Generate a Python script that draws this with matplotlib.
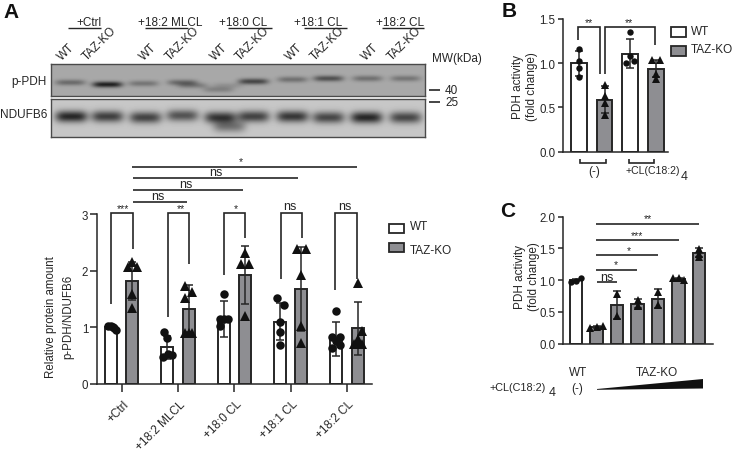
import numpy as np
import matplotlib
matplotlib.use("Agg")
import matplotlib.pyplot as plt
from matplotlib.patches import Rectangle, Polygon

plt.rcParams['font.family'] = ['Liberation Sans', 'DejaVu Sans']
plt.rcParams['mathtext.default'] = 'regular'

# ---------- data ----------
groups_a = ["+Ctrl", "+18:2 MLCL", "+18:0 CL", "+18:1 CL", "+18:2 CL"]
wt_mean = [1.0, 0.65, 1.15, 1.10, 0.80]
wt_err = [0.03, 0.20, 0.32, 0.33, 0.30]
ko_mean = [1.82, 1.33, 1.93, 1.68, 0.98]
ko_err = [0.33, 0.42, 0.51, 0.74, 0.46]
wt_points = [[1.02, 1.03, 1.0, 0.98, 0.95],
             [0.92, 0.81, 0.47, 0.53, 0.51],
             [1.59, 1.15, 1.15, 1.15, 1.02],
             [1.52, 1.40, 1.09, 0.91, 0.68],
             [1.28, 0.83, 0.83, 0.64, 0.69, 0.76]]
ko_points = [[2.15, 2.06, 2.06, 1.59, 1.34],
             [1.73, 1.63, 1.52, 0.90, 0.90, 0.90],
             [2.32, 2.12, 2.12, 1.20],
             [2.39, 2.39, 1.92, 1.02, 0.73],
             [1.78, 0.93, 0.79, 0.70, 0.70, 0.70]]
wt_jit = [[-.05, 0, .03, .06, .08], [-.065, 0, -.07, .02, .08],
          [0, -.07, 0, .07, -.06], [-.06, .07, 0, 0, 0],
          [0, -.07, .07, -.07, .07, 0]]
ko_jit = [[0, -.08, .08, 0, 0], [-.065, .065, -.065, -.065, .065, 0],
          [0, -.065, .07, 0], [-.08, .08, 0, 0, 0],
          [0, .07, 0, -.07, 0, .07]]

b_labels = ["(-)", "+CL(C18:2)", "4"]
b_mean = [1.0, 0.59, 1.11, 0.94]
b_err = [0.14, 0.15, 0.16, 0.10]
b_points = [[1.16, 1.03, 0.95, 0.84], [0.75, 0.63, 0.55, 0.41],
            [1.35, 1.08, 1.02, 1.00], [1.04, 1.04, 0.88, 0.82]]
b_jit = [[0, 0, 0, 0], [0, 0, 0, 0], [0, 0, .16, -.16], [.16, -.16, 0, 0]]

c_mean = [1.0, 0.26, 0.61, 0.63, 0.71, 1.02, 1.43]
c_err = [0.02, 0.02, 0.22, 0.07, 0.15, 0.02, 0.07]
c_points = [[0.975, 0.99, 1.03], [0.25, 0.27, 0.28], [0.78, 0.44], [0.69, 0.60, 0.60],
            [0.81, 0.61], [1.03, 1.03, 1.01], [1.49, 1.41, 1.37]]
c_jit = [[-.23, 0, .23], [-.3, 0, .3], [0, 0], [0, 0, 0], [0, 0], [-.25, 0, .25], [0, 0, 0]]

lanes = ["WT", "TAZ-KO"] * 5
lane_x = [66, 100, 148, 183, 219, 253, 294, 328, 370, 405]
ppdh_x = [70, 107, 143, 182, 218, 253, 292, 328, 367, 405, 192, 227]
ppdh_y = [83, 85, 84, 83, 90, 82, 80, 79, 79, 79, 86, 86]
ppdh_i = [.36, .80, .30, .36, .22, .58, .33, .52, .33, .30, .25, .12]
nd_x = [71, 107, 145, 182, 220, 253, 292, 328, 366, 405, 229]
nd_y = [117, 117, 118, 116, 118, 117, 117, 118, 118, 118, 127]
nd_i = [.80, .68, .66, .58, .72, .66, .72, .64, .80, .64, .40]

INK = "#262626"
GREY = "#8e8e92"
W, H = 733, 456
fig = plt.figure(figsize=(W / 100, H / 100), dpi=100)


def make_ax(l, r, b, t, ticklen):
    ax = fig.add_axes([l / W, 1 - b / H, (r - l) / W, (b - t) / H])
    ax.patch.set_alpha(0)
    for s in ("top", "right"):
        ax.spines[s].set_visible(False)
    for s in ("left", "bottom"):
        ax.spines[s].set_linewidth(1.1)
        ax.spines[s].set_color(INK)
    ax.tick_params(axis="y", length=ticklen, width=1.1, color=INK, labelsize=8.3, pad=1.5, labelcolor=INK)
    return ax


def bars(ax, x, h, err, pts, jit, width, color, marker, ms, lw=1.4):
    ax.bar(x, h, width=width, facecolor=color, edgecolor=INK, linewidth=lw, zorder=2)
    ax.errorbar(x, h, yerr=err, color=INK, capsize=3.0, lw=1.1, capthick=1.1, zorder=4, fmt="none")
    xs = [x + j for j in jit]
    ax.plot(xs, pts, ls="none", marker=marker, ms=ms, color="#111111", mew=0, zorder=5)


# ---------- overlay in pixel space ----------
ov = fig.add_axes([0, 0, 1, 1], zorder=10)
ov.set_xlim(0, W)
ov.set_ylim(H, 0)
ov.axis("off")


def line(xs, ys, lw=1.2):
    ov.plot(xs, ys, color=INK, lw=lw, solid_capstyle="butt", solid_joinstyle="miter")


def txt(x, y, s, size=8.5, **kw):
    kw.setdefault("ha", "center")
    kw.setdefault("va", "center")
    kw.setdefault("color", INK)
    ov.text(x, y, s, fontsize=size, **kw)


# ---------- blots ----------
def blot(l, r, t, b, xs, ys, ints, sx, sy, bg):
    yy, xx = np.mgrid[t:b:1.0, l:r:1.0]
    img = np.full(xx.shape, bg, dtype=float)
    for x0, y0, a in zip(xs, ys, ints):
        img -= a * bg * np.exp(-((xx - x0) / sx) ** 4 - ((yy - y0) / sy) ** 2)
    ax = fig.add_axes([l / W, 1 - b / H, (r - l) / W, (b - t) / H])
    ax.imshow(img, cmap="gray", vmin=0, vmax=1, aspect="auto", interpolation="bilinear")
    ax.set_xticks([])
    ax.set_yticks([])
    for s in ax.spines.values():
        s.set_linewidth(1.0)
        s.set_color("#4a4a4a")


blot(51, 425, 65, 97, ppdh_x, ppdh_y, ppdh_i, 15, 3.0, 0.66)
blot(51, 425, 100, 138, nd_x, nd_y, nd_i, 16, 5.8, 0.78)

for x, lab in zip(lane_x, lanes):
    txt(x, 63.5, lab, 8.5, rotation=45, ha="center", va="bottom")
heads = [(89, 68, 101), (170, 145, 188), (243, 228, 272), (318, 304, 347), (400, 382, 424)]
for x, a, b in heads:
    line([a, b], [29.4, 29.4], 1.0)
for (x, a, b), g in zip(heads, groups_a):
    txt(x, 22.5, g, 8.5)
txt(456.5, 59, "MW(kDa)", 8.5)
txt(47, 82, "p-PDH", 8.5, ha="right")
txt(47, 115, "NDUFB6", 8.5, ha="right")
line([429, 440], [91, 91], 1.2)
line([429, 440], [103, 103], 1.2)
txt(445, 91.5, "40", 8.5, ha="left")
txt(445, 103.5, "25", 8.5, ha="left")

# ---------- panel A ----------
axA = make_ax(97.3, 372, 385, 215, 5)
unit_a = 56.3
axA.set_xlim((97.3 - 121.7) / unit_a, (372 - 121.7) / unit_a)
axA.set_ylim(0, 3)
axA.set_yticks([0, 1, 2, 3])
axA.set_xticks(range(5))
axA.set_xticklabels([])
axA.tick_params(axis="x", length=5.6, width=1.1, color=INK)
off = 10.7 / unit_a
for i in range(5):
    bars(axA, i - off, wt_mean[i], wt_err[i], wt_points[i], wt_jit[i], 12 / unit_a, "white", "o", 6.1)
    bars(axA, i + off, ko_mean[i], ko_err[i], ko_points[i], ko_jit[i], 12 / unit_a, GREY, "^", 7.2)
for i, g in enumerate(groups_a):
    px = 121.7 + i * unit_a
    ov.text(px + 1, 399, g, fontsize=8.5, rotation=45, ha="right", va="top", rotation_mode="anchor", color=INK)
txt(51, 317, "Relative protein amount", 8.3, rotation=90)
txt(68, 317, "p-PDH/NDUFB6", 8.3, rotation=90)

brk = [(110.7, 305, 132.7, 250, "***"), (168.3, 318, 189, 265, "**"), (223.7, 276, 245, 239, "*"),
       (280.7, 280, 301.7, 239, "ns"), (335.3, 291, 357.3, 280, "ns")]
for x0, y0, x1, y1, s in brk:
    line([x0, x0, x1, x1], [y0, 213.7, 213.7, y1])
    if "*" in s:
        txt((x0 + x1) / 2 + (1 if s == "***" else 2), 209, s, 7.5)
    else:
        txt((x0 + x1) / 2 - 1, 207, s, 9)
tops = [(132, 356.5, 167.7, 241, 162, "*", 7.5), (133, 298, 179.3, 216, 173, "ns", 9),
        (133, 243, 191.3, 186, 185, "ns", 9), (133, 187, 203.3, 158, 197, "ns", 9)]
for a, b, y, tx, ty, s, fs in tops:
    line([a, b], [y, y])
    txt(tx, ty, s, fs)

for y, fc in [(225, "white"), (244, GREY)]:
    ov.add_patch(Rectangle((388.5, y), 15.5, 9, facecolor=fc, edgecolor=INK, lw=1.3))
txt(410, 227, "WT", 8.5, ha="left")
txt(410, 251.5, "TAZ-KO", 8.5, ha="left")

# ---------- panel B ----------
axB = make_ax(562.7, 668, 152.7, 20, 3.6)
unit_b = 25.6
axB.set_xlim((562.7 - 579) / unit_b, (668 - 579) / unit_b)
axB.set_ylim(0, 1.5)
axB.set_yticks([0, 0.5, 1.0, 1.5])
axB.set_yticklabels(["0.0", "0.5", "1.0", "1.5"])
axB.set_xticks([])
cols_b = ["white", GREY, "white", GREY]
mk_b = ["o", "^", "o", "^"]
for i in range(4):
    bars(axB, i, b_mean[i], b_err[i], b_points[i], b_jit[i], 15.5 / unit_b, cols_b[i], mk_b[i],
         4.6 if i % 2 == 0 else 5.2)
line([580, 580, 605.5, 605.5], [159.5, 163.5, 163.5, 159.5])
line([628.5, 628.5, 654, 654], [159.5, 163.5, 163.5, 159.5])
txt(594, 172, b_labels[0], 8.5)
txt(626, 171.5, b_labels[1], 7.6, ha="left")
txt(681, 177, b_labels[2], 9, ha="left")
txt(518, 87, "PDH activity", 8.5, rotation=90)
txt(532, 87, "(fold change)", 8.5, rotation=90)
line([578.3, 578.3, 600, 600], [41, 28.3, 28.3, 75])
line([605, 605, 655, 655], [75, 28.3, 28.3, 45.7])
txt(589, 23.5, "**", 7.5)
txt(629, 23.5, "**", 7.5)
for y, fc in [(28, "white"), (47, GREY)]:
    ov.add_patch(Rectangle((671, y), 15, 9.5, facecolor=fc, edgecolor=INK, lw=1.3))
txt(691, 32, "WT", 8.5, ha="left")
txt(691, 50, "TAZ-KO", 8.5, ha="left")

# ---------- panel C ----------
axC = make_ax(562.7, 712.7, 344.7, 217.7, 3.6)
unit_c = 20.5
axC.set_xlim((562.7 - 576) / unit_c, (712.7 - 576) / unit_c)
axC.set_ylim(0, 2)
axC.set_yticks([0, 0.5, 1.0, 1.5, 2.0])
axC.set_yticklabels(["0.0", "0.5", "1.0", "1.5", "2.0"])
axC.set_xticks([])
for i in range(7):
    bars(axC, i, c_mean[i], c_err[i], c_points[i], c_jit[i], 12.5 / unit_c,
         "white" if i == 0 else GREY, "o" if i == 0 else "^", 4.6 if i == 0 else 5.8)
txt(520, 277, "PDH activity", 8.5, rotation=90)
txt(533.5, 277, "(fold change)", 8.5, rotation=90)
sig = [(596, 699, 225, 648, 219.5, "**"), (596, 679, 240.7, 637, 236, "***"),
       (596, 658, 256.3, 629, 251, "*"), (596, 637, 271, 616, 265.5, "*")]
for a, b, y, tx, ty, s in sig:
    line([a, b], [y, y])
    txt(tx, ty, s, 7.5)
line([597, 617], [282.7, 282.7])
txt(607, 278, "ns", 9)
txt(578, 373, "WT", 8.5)
txt(577, 389, "(-)", 8.5)
txt(657, 373, "TAZ-KO", 8.5)
txt(490, 388, b_labels[1], 7.8, ha="left")
txt(548.5, 393, b_labels[2], 9, ha="left")
ov.add_patch(Polygon([(597, 390), (703, 380), (703, 389.5), (597, 390.8)], closed=True,
                     facecolor="#111111", edgecolor="none"))

# ---------- panel letters ----------
for x, y, s in [(3, 13, "A"), (501.5, 11.5, "B"), (500.5, 212, "C")]:
    ov.text(x, y, s, fontsize=15, fontweight="bold", ha="left", va="center", color="#111111")

fig.savefig("out.png", dpi=100)
